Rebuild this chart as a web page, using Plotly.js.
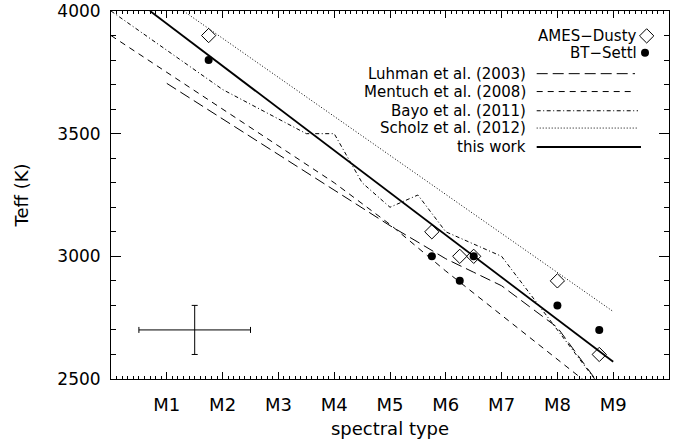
<!DOCTYPE html>
<html>
<head>
<meta charset="utf-8">
<script src="https://cdn.plot.ly/plotly-3.0.1.min.js"></script>
<style>html,body{margin:0;padding:0;background:#fff;}#chart{width:681px;height:445px;}</style>
</head>
<body>
<div id="chart"></div>
<script>
// ---- data ----
const spTickVals = [1, 2, 3, 4, 5, 6, 7, 8, 9];
const spTickText = ["M1", "M2", "M3", "M4", "M5", "M6", "M7", "M8", "M9"];
const teffTickVals = [2500, 3000, 3500, 4000];

const amesX = [1.75, 5.75, 6.25, 6.5, 8.0, 8.75];
const amesY = [3900, 3100, 3000, 3000, 2900, 2600];
const settlX = [1.75, 5.75, 6.25, 6.5, 8.0, 8.75];
const settlY = [3800, 3000, 2900, 3000, 2800, 2700];

const luhmanX = [1, 2, 3, 4, 5, 5.5, 6, 6.5, 7, 7.5, 8, 8.5, 9];
const luhmanY = [3705, 3560, 3415, 3270, 3125, 3058, 2990, 2935, 2880, 2795, 2710, 2555, 2400];
const mentuchX = [0, 1, 2, 3, 4, 5, 6, 7, 8, 9];
const mentuchY = [3900, 3750, 3600, 3450, 3300, 3130, 2940, 2760, 2580, 2400];
const bayoX = [0, 2, 3.5, 4, 4.5, 5, 5.5, 6, 7, 8, 9];
const bayoY = [4000, 3680, 3500, 3500, 3300, 3200, 3250, 3100, 3000, 2700, 2400];
const scholzX = [1.3, 9];
const scholzY = [4000, 2775];
const thisWorkX = [0.7, 9];
const thisWorkY = [4000, 2570];

const errX = [1.5];
const errY = [2700];
const errDX = [1];
const errDY = [100];

const legendLabels = ["Luhman et al. (2003)", "Mentuch et al. (2008)", "Bayo et al. (2011)", "Scholz et al. (2012)", "this work"];
const symbolLabels = ["AMES\u2212Dusty", "BT\u2212Settl"];

// ---- styles ----
const FONT = "DejaVu Sans, sans-serif";
const dashes = ["11px,5px", "6px,5px", "4px,2.5px,1px,2.5px", "1px,2px", "solid"];
const widths = [1, 1, 1, 1, 1.8];

const lineSeries = [[luhmanX, luhmanY], [mentuchX, mentuchY], [bayoX, bayoY], [scholzX, scholzY], [thisWorkX, thisWorkY]];

const traces = lineSeries.map((s, i) => ({
  x: s[0], y: s[1], type: 'scatter', mode: 'lines',
  line: {color: '#000', width: widths[i], dash: dashes[i]},
  showlegend: false, hoverinfo: 'skip'
}));

traces.push({
  x: amesX, y: amesY, type: 'scatter', mode: 'markers',
  marker: {symbol: 'diamond-open', size: 11, color: '#000', line: {width: 1, color: '#000'}},
  showlegend: false
});
traces.push({
  x: settlX, y: settlY, type: 'scatter', mode: 'markers',
  marker: {symbol: 'circle', size: 8, color: '#000'},
  showlegend: false
});
traces.push({
  x: errX, y: errY, type: 'scatter', mode: 'markers',
  marker: {size: 1, color: 'rgba(0,0,0,0)'},
  error_x: {type: 'data', array: errDX, visible: true, color: '#000', thickness: 1, width: 3},
  error_y: {type: 'data', array: errDY, visible: true, color: '#000', thickness: 1, width: 3},
  showlegend: false
});

// legend geometry (paper coordinates)
const legTextX = 0.7455;
const legLineX0 = 0.7629;
const legLineX1 = [0.9391, 0.9391, 0.9444, 0.9444, 0.9498];
const legY = [0.8297, 0.7811, 0.7289, 0.6819, 0.6305];
const symTextX = 0.9444;
const symY = [0.9324, 0.8865];
const symX = [0.960, 0.957];

// legend symbols on a hidden overlay axis pair spanning the plot area
traces.push({
  x: [symX[0]], y: [symY[0]], xaxis: 'x2', yaxis: 'y2', type: 'scatter', mode: 'markers',
  marker: {symbol: 'diamond-open', size: 11, color: '#000', line: {width: 1, color: '#000'}},
  showlegend: false, cliponaxis: false
});
traces.push({
  x: [symX[1]], y: [symY[1]], xaxis: 'x2', yaxis: 'y2', type: 'scatter', mode: 'markers',
  marker: {symbol: 'circle', size: 8, color: '#000'},
  showlegend: false, cliponaxis: false
});

const shapes = legendLabels.map((lab, i) => ({
  type: 'line', xref: 'paper', yref: 'paper',
  x0: legLineX0, x1: legLineX1[i], y0: legY[i], y1: legY[i],
  line: {color: '#000', width: widths[i], dash: dashes[i]}
}));

const annotations = legendLabels.map((lab, i) => ({
  text: lab, xref: 'paper', yref: 'paper', x: legTextX, y: legY[i],
  xanchor: 'right', yanchor: 'middle', showarrow: false, borderpad: 0,
  font: {family: FONT, size: 15, color: '#000'}
}));
symbolLabels.forEach((lab, i) => annotations.push({
  text: lab, xref: 'paper', yref: 'paper', x: symTextX, y: symY[i],
  xanchor: 'right', yanchor: 'middle', showarrow: false, borderpad: 0,
  font: {family: FONT, size: 15, color: '#000'}
}));

const layout = {
  width: 681, height: 445,
  margin: {l: 111, r: 12, t: 11, b: 66, pad: 0},
  paper_bgcolor: '#fff', plot_bgcolor: '#fff',
  font: {family: FONT, size: 18, color: '#000'},
  showlegend: false,
  xaxis: {
    range: [0, 10], tickmode: 'array', tickvals: spTickVals, ticktext: spTickText,
    ticks: 'inside', ticklen: 7, tickwidth: 1, tickcolor: '#000',
    showline: true, linecolor: '#000', linewidth: 1, mirror: 'ticks',
    showgrid: false, zeroline: false, ticklabelstandoff: 9,
    tickfont: {family: FONT, size: 18, color: '#000'},
    minor: {ticks: 'inside', ticklen: 3, tickmode: 'linear', tick0: 0, dtick: 0.1, tickcolor: '#000', tickwidth: 1, showgrid: false},
    title: {text: 'spectral type', font: {family: FONT, size: 18, color: '#000'}, standoff: 8}
  },
  yaxis: {
    range: [2500, 4000], tickmode: 'array', tickvals: teffTickVals,
    ticks: 'inside', ticklen: 10, tickwidth: 1, tickcolor: '#000',
    showline: true, linecolor: '#000', linewidth: 1, mirror: 'ticks',
    showgrid: false, zeroline: false, ticklabelstandoff: 6, ticklabeloverflow: 'allow',
    tickfont: {family: FONT, size: 17, color: '#000'},
    minor: {ticks: 'inside', ticklen: 5, tickmode: 'linear', tick0: 2500, dtick: 100, tickcolor: '#000', tickwidth: 1, showgrid: false},
    title: {text: 'Teff (K)', font: {family: FONT, size: 18, color: '#000'}, standoff: 24}
  },
  xaxis2: {overlaying: 'x', range: [0, 1], visible: false, fixedrange: true},
  yaxis2: {overlaying: 'y', range: [0, 1], visible: false, fixedrange: true},
  shapes: shapes,
  annotations: annotations
};

Plotly.newPlot('chart', traces, layout, {staticPlot: true, displayModeBar: false});
</script>
</body>
</html>
